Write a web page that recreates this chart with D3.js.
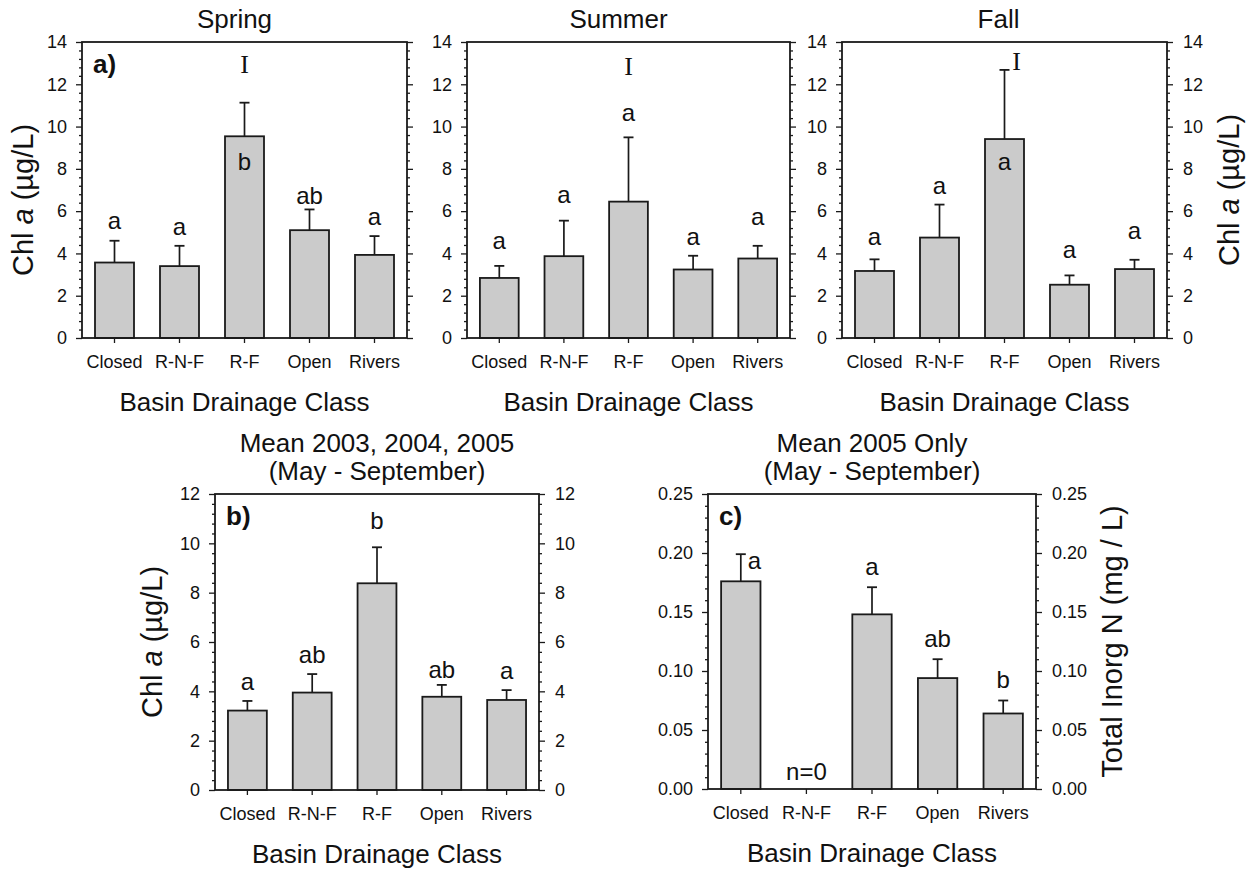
<!DOCTYPE html>
<html>
<head>
<meta charset="utf-8">
<script src="https://cdn.jsdelivr.net/npm/d3@7"></script>
<style>
  body { margin: 0; background: #fff; }
  svg text { font-family: "Liberation Sans", Arial, Helvetica, sans-serif; fill: #111; }
  .tick text { font-size: 18px; }
  .tick line { stroke: #1a1a1a; stroke-width: 1.3; }
</style>
</head>
<body>
<svg id="fig" width="1252" height="871"></svg>
<script>
// ---- data -------------------------------------------------------------
const classes = ["Closed", "R-N-F", "R-F", "Open", "Rivers"];

// Chl a (µg/L), seasonal means and standard errors
const springMean = [3.57, 3.40, 9.54, 5.10, 3.93];
const springSE   = [1.03, 0.96, 1.59, 0.98, 0.89];
const springLetters = ["a", "a", "b", "ab", "a"];

const summerMean = [2.84, 3.87, 6.45, 3.24, 3.76];
const summerSE   = [0.57, 1.68, 3.04, 0.65, 0.60];
const summerLetters = ["a", "a", "a", "a", "a"];

const fallMean = [3.17, 4.75, 9.41, 2.52, 3.26];
const fallSE   = [0.55, 1.56, 3.27, 0.44, 0.44];
const fallLetters = ["a", "a", "a", "a", "a"];

// Chl a (µg/L), mean 2003-2005, May - September
const annualMean = [3.22, 3.95, 8.38, 3.78, 3.65];
const annualSE   = [0.39, 0.75, 1.46, 0.48, 0.40];
const annualLetters = ["a", "ab", "b", "ab", "a"];

// Total inorganic N (mg/L), mean 2005, May - September (no R-N-F samples)
const tinMean = [0.176, null, 0.148, 0.094, 0.064];
const tinSE   = [0.023, null, 0.023, 0.016, 0.011];
const tinLetters = ["a", "n=0", "a", "ab", "b"];

const chlTicks = [0, 2, 4, 6, 8, 10, 12, 14];
const chlAnnualTicks = [0, 2, 4, 6, 8, 10, 12];
const tinTicks = [0, 0.05, 0.10, 0.15, 0.20, 0.25];

// ---- layout -----------------------------------------------------------
const panels = [
  { box: {x0: 82, x1: 407, y0: 42, y1: 338}, domain: [0, 14], ticks: chlTicks, minor: 0.4,
    fmt: d3.format("d"), mean: springMean, se: springSE, letters: springLetters,
    title: ["Spring"], titleY: [28], titleDx: -10, leftLabels: true, rightLabels: false,
    yTitle: {text: "chl", x: 23, dy: 10}, tag: "a)",
    place: [{above: 12}, {above: 11}, {inside: 34}, {above: 5}, {above: 11}],
    mark: {dx: 0, y: 73} },
  { box: {x0: 467, x1: 790, y0: 42, y1: 338}, domain: [0, 14], ticks: chlTicks, minor: 0.4,
    fmt: d3.format("d"), mean: summerMean, se: summerSE, letters: summerLetters,
    title: ["Summer"], titleY: [28], titleDx: -10, leftLabels: true, rightLabels: false,
    yTitle: null, tag: null,
    place: [{above: 17}, {above: 18}, {above: 16}, {above: 11}, {above: 21}],
    mark: {dx: 0, y: 75} },
  { box: {x0: 842, x1: 1167, y0: 42, y1: 338}, domain: [0, 14], ticks: chlTicks, minor: 0.4,
    fmt: d3.format("d"), mean: fallMean, se: fallSE, letters: fallLetters,
    title: ["Fall"], titleY: [28], titleDx: -6, leftLabels: true, rightLabels: true,
    yTitle: {text: "chl", x: 1229, dy: 0}, tag: null,
    place: [{above: 14}, {above: 11}, {inside: 31}, {above: 17}, {above: 21}],
    mark: {dx: 12, y: 70} },
  { box: {x0: 215, x1: 539, y0: 494, y1: 790}, domain: [0, 12], ticks: chlAnnualTicks, minor: 0.4,
    fmt: d3.format("d"), mean: annualMean, se: annualSE, letters: annualLetters,
    title: ["Mean 2003, 2004, 2005", "(May - September)"], titleY: [452, 480], titleDx: 0,
    leftLabels: true, rightLabels: true,
    yTitle: {text: "chl", x: 152, dy: 0}, tag: "b)",
    place: [{above: 11}, {above: 11}, {above: 18}, {above: 7}, {above: 11}],
    mark: null },
  { box: {x0: 708, x1: 1036, y0: 494, y1: 789}, domain: [0, 0.25], ticks: tinTicks, minor: 0.01,
    fmt: d3.format(".2f"), mean: tinMean, se: tinSE, letters: tinLetters,
    title: ["Mean 2005 Only", "(May - September)"], titleY: [452, 480], titleDx: 0,
    leftLabels: true, rightLabels: true,
    yTitle: {text: "tin", x: 1112, dy: 0}, tag: "c)",
    place: [{side: [7, 15]}, {base: 9}, {above: 12}, {above: 12}, {above: 13}],
    mark: null }
];

const ink = "#1a1a1a";
const svg = d3.select("#fig");

panels.forEach(drawPanel);

function styleAxis(sel) {
  sel.select(".domain").remove();
  sel.attr("font-family", null).attr("font-size", null);
}

function drawPanel(p) {
  const g = svg.append("g");
  const b = p.box;
  const x = d3.scaleBand().domain(classes).range([b.x0, b.x1])
    .paddingInner(0.4).paddingOuter(0.2);
  const y = d3.scaleLinear().domain(p.domain).range([b.y1, b.y0]);

  const rows = classes.map((c, i) => ({
    c, m: p.mean[i], se: p.se[i], label: p.letters[i], place: p.place[i]
  }));
  const withBar = rows.filter(r => r.m != null);

  // bars
  g.selectAll("rect.bar").data(withBar).join("rect")
    .attr("class", "bar")
    .attr("x", r => x(r.c)).attr("width", x.bandwidth())
    .attr("y", r => y(r.m)).attr("height", r => y(0) - y(r.m))
    .attr("fill", "#cbcbcb").attr("stroke", ink).attr("stroke-width", 1.8);

  // error bars (upper only)
  const cx = r => x(r.c) + x.bandwidth() / 2;
  g.selectAll("line.err").data(withBar).join("line")
    .attr("x1", cx).attr("x2", cx)
    .attr("y1", r => y(r.m)).attr("y2", r => y(r.m + r.se))
    .attr("stroke", ink).attr("stroke-width", 1.7);
  g.selectAll("line.cap").data(withBar).join("line")
    .attr("x1", r => cx(r) - 5).attr("x2", r => cx(r) + 5)
    .attr("y1", r => y(r.m + r.se)).attr("y2", r => y(r.m + r.se))
    .attr("stroke", ink).attr("stroke-width", 1.8);

  // minor tick positions between the labelled ticks
  const minorVals = d3.range(p.domain[0], p.domain[1] + p.minor / 2, p.minor)
    .filter(v => !p.ticks.some(t => Math.abs(t - v) < p.minor / 4));

  // left axis
  g.append("g").attr("transform", `translate(${b.x0},0)`)
    .call(d3.axisLeft(y).tickValues(minorVals).tickSize(3).tickFormat(""))
    .call(styleAxis);
  g.append("g").attr("transform", `translate(${b.x0},0)`)
    .call(d3.axisLeft(y).tickValues(p.ticks).tickSize(6).tickPadding(9)
      .tickFormat(p.leftLabels ? p.fmt : ""))
    .call(styleAxis);

  // right axis
  g.append("g").attr("transform", `translate(${b.x1},0)`)
    .call(d3.axisRight(y).tickValues(minorVals).tickSize(3).tickFormat(""))
    .call(styleAxis);
  g.append("g").attr("transform", `translate(${b.x1},0)`)
    .call(d3.axisRight(y).tickValues(p.ticks).tickSize(6).tickPadding(10)
      .tickFormat(p.rightLabels ? p.fmt : ""))
    .call(styleAxis);

  // bottom axis with category names
  g.append("g").attr("transform", `translate(0,${b.y1})`)
    .call(d3.axisBottom(x).tickSize(5).tickPadding(12))
    .call(styleAxis);

  // frame
  g.append("rect")
    .attr("x", b.x0).attr("y", b.y0)
    .attr("width", b.x1 - b.x0).attr("height", b.y1 - b.y0)
    .attr("fill", "none").attr("stroke", ink).attr("stroke-width", 1.8);

  // significance letters
  g.selectAll("text.letter").data(rows).join("text")
    .attr("class", "letter")
    .attr("font-size", 24)
    .attr("text-anchor", r => r.place.side ? "start" : "middle")
    .attr("x", r => r.place.side ? cx(r) + r.place.side[0] : cx(r))
    .attr("y", r => {
      const pl = r.place;
      if (pl.base != null) return y(0) - pl.base;
      if (pl.inside != null) return y(r.m) + pl.inside;
      if (pl.side) return y(r.m + r.se) + pl.side[1];
      return y(r.m + r.se) - pl.above;
    })
    .text(r => r.label);

  // serif marker over the R-F column
  if (p.mark) {
    g.append("text")
      .attr("x", x("R-F") + x.bandwidth() / 2 + p.mark.dx).attr("y", p.mark.y)
      .attr("text-anchor", "middle")
      .style("font-family", "'Liberation Serif', 'Times New Roman', serif")
      .attr("font-size", 26)
      .text("I");
  }

  // panel title
  const midX = (b.x0 + b.x1) / 2;
  p.title.forEach((t, i) => {
    g.append("text").attr("x", midX + p.titleDx).attr("y", p.titleY[i])
      .attr("text-anchor", "middle").attr("font-size", 26).text(t);
  });

  // x-axis title
  g.append("text").attr("x", midX).attr("y", b.y1 + 73)
    .attr("text-anchor", "middle").attr("font-size", 26)
    .text("Basin Drainage Class");

  // y-axis title
  if (p.yTitle) {
    const ty = g.append("text")
      .attr("transform", `translate(${p.yTitle.x},${(b.y0 + b.y1) / 2 + p.yTitle.dy}) rotate(-90)`)
      .attr("text-anchor", "middle").attr("dy", "0.35em").attr("font-size", 29);
    if (p.yTitle.text === "chl") {
      ty.append("tspan").text("Chl ");
      ty.append("tspan").attr("font-style", "italic").text("a");
      ty.append("tspan").text(" (\u00b5g/L)");
    } else {
      ty.text("Total Inorg N (mg / L)");
    }
  }

  // panel tag
  if (p.tag) {
    g.append("text").attr("x", b.x0 + 11).attr("y", b.y0 + 31)
      .attr("font-size", 26).attr("font-weight", "bold").text(p.tag);
  }
}
</script>
</body>
</html>
